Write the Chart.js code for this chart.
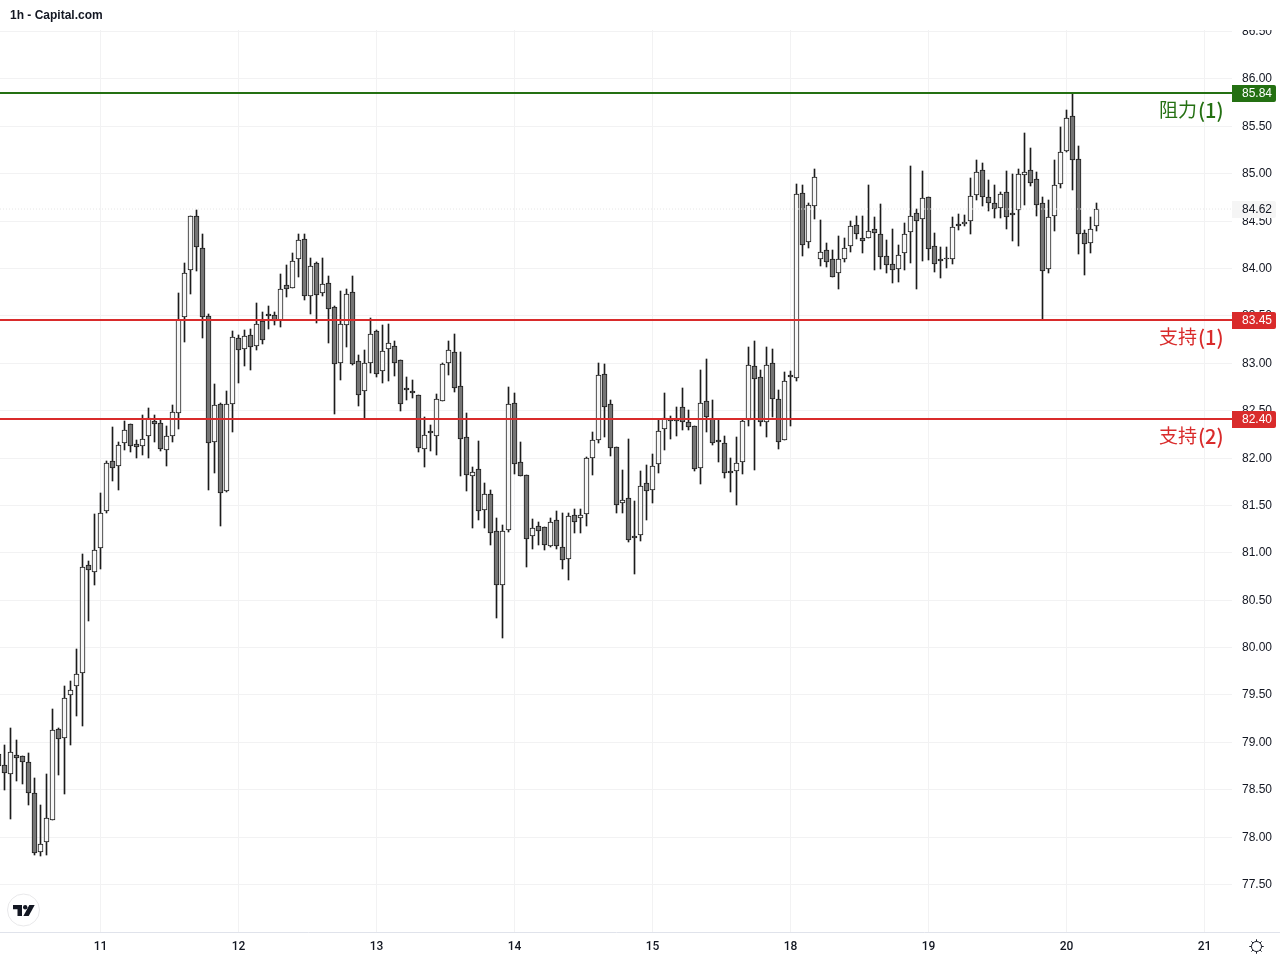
<!DOCTYPE html>
<html><head><meta charset="utf-8">
<style>html,body{margin:0;padding:0;background:#fff}canvas{display:block}</style>
<script src="https://cdn.jsdelivr.net/npm/chart.js@4/dist/chart.umd.min.js"></script>
</head><body><canvas id="c" width="1280" height="960"></canvas>
<script>
const firstIndex = -1;
const opens = [78.87,78.76,78.66,78.86,78.85,78.79,78.46,77.84,77.94,78.18,79.14,79.04,79.49,79.59,79.73,80.87,80.79,81.05,81.44,81.96,81.91,82.15,82.35,82.14,82.12,82.23,82.39,82.36,82.08,82.23,82.47,83.48,83.98,84.55,84.21,83.49,82.16,82.56,81.65,82.57,83.26,83.15,83.29,83.18,83.44,83.51,83.50,83.45,83.82,83.79,84.09,84.31,83.71,84.05,83.74,83.84,83.59,83.00,83.40,83.75,83.02,82.70,83.00,83.34,82.91,83.15,83.18,83.03,82.73,82.70,82.66,82.09,82.28,82.23,82.60,83.00,83.11,82.75,82.22,81.81,81.88,81.45,81.62,81.23,80.65,81.24,82.58,81.95,81.82,81.17,81.28,81.27,81.07,81.34,81.06,80.93,81.39,81.36,81.40,82.00,82.18,82.88,82.57,82.11,81.52,81.57,81.17,81.18,81.73,81.66,81.93,82.30,82.41,82.41,82.53,82.37,82.33,81.89,82.60,82.41,82.18,82.15,81.86,81.86,81.95,82.40,82.97,82.85,82.38,83.00,82.62,82.19,82.87,82.84,84.79,84.27,84.65,84.10,84.19,84.10,83.95,84.10,84.23,84.45,84.32,84.32,84.41,84.36,84.13,84.04,83.99,84.16,84.38,84.58,84.52,84.75,84.23,84.09,84.11,84.09,84.46,84.46,84.50,84.77,85.03,84.75,84.69,84.63,84.80,84.58,84.61,84.98,85.03,84.94,84.69,83.99,84.55,84.89,85.24,85.60,85.15,84.37,84.26,84.44];
const highs = [78.87,78.97,79.15,79.02,78.85,78.88,78.62,78.33,78.66,79.35,79.15,79.59,79.64,79.98,80.98,80.91,81.40,81.63,81.96,82.32,82.16,82.39,82.35,82.18,82.45,82.52,82.45,82.41,82.33,82.55,83.74,84.05,84.55,84.61,84.36,83.51,82.78,82.58,82.70,83.34,83.29,83.35,83.36,83.63,83.54,83.60,83.54,83.94,84.03,84.16,84.36,84.36,84.11,84.06,84.11,83.92,83.60,83.76,83.78,83.92,83.08,83.13,83.47,83.35,83.40,83.41,83.23,83.03,82.85,82.82,82.66,82.43,82.34,82.67,83.00,83.23,83.30,83.11,82.47,81.90,82.17,81.73,81.66,81.36,81.29,82.74,82.68,82.16,81.82,81.35,81.32,81.27,81.36,81.44,81.41,81.41,81.46,81.46,82.01,82.27,83.00,82.99,82.61,82.11,81.87,82.20,81.54,81.86,81.92,82.04,82.41,82.68,82.44,82.53,82.73,82.50,82.33,82.92,83.04,82.61,82.40,82.23,82.00,82.22,82.40,83.17,83.23,82.92,83.17,83.15,82.71,82.90,82.91,84.89,84.88,84.69,85.04,84.51,84.26,84.19,84.34,84.32,84.50,84.55,84.55,84.88,84.54,84.68,84.30,84.41,84.24,84.47,85.08,84.62,85.02,84.75,84.37,84.22,84.22,84.54,84.57,84.56,84.95,85.14,85.11,84.93,84.88,84.80,85.02,84.99,85.04,85.42,85.27,85.01,84.75,84.72,85.14,85.49,85.67,85.84,85.29,84.40,84.54,84.69];
const lows = [78.75,78.49,78.19,78.59,78.56,78.33,77.81,77.80,77.81,78.18,78.65,78.45,78.97,79.27,79.17,80.28,80.65,80.82,81.42,81.75,81.66,82.08,82.06,81.99,82.03,82.00,82.16,82.07,81.91,82.16,82.30,83.22,83.73,83.97,83.26,81.66,81.84,81.28,81.64,82.27,82.79,82.97,82.92,83.13,83.20,83.36,83.40,83.38,83.69,83.79,83.91,83.66,83.51,83.42,83.70,83.21,82.46,82.82,83.17,82.98,82.54,82.41,82.89,82.85,82.79,82.81,82.86,82.49,82.61,82.63,82.06,81.90,82.07,82.03,82.60,82.87,82.69,81.81,81.65,81.26,81.34,81.26,81.08,80.31,80.10,81.21,81.83,81.80,80.85,81.04,81.08,81.02,81.06,81.04,80.82,80.71,81.20,81.20,81.28,81.82,82.15,82.22,82.02,81.42,81.42,81.11,80.77,81.12,81.34,81.52,81.84,82.08,82.20,82.23,82.29,82.29,81.86,81.72,82.27,82.13,81.95,81.78,81.64,81.50,81.83,82.33,81.87,82.33,82.22,82.43,82.09,82.18,82.33,82.81,84.13,84.21,84.52,84.02,84.01,83.91,83.78,84.06,84.17,84.31,84.16,84.32,83.98,83.99,83.95,83.84,83.85,83.98,84.05,83.78,84.07,84.08,83.96,83.89,84.00,84.04,84.40,84.44,84.36,84.72,84.65,84.60,84.53,84.53,84.41,84.28,84.23,84.66,84.87,84.55,83.45,83.95,84.39,84.84,85.22,84.82,84.15,83.93,84.16,84.39];
const closes = [78.75,78.67,78.89,78.83,78.79,78.46,77.83,77.92,78.20,79.12,79.03,79.46,79.55,79.72,80.85,80.81,81.02,81.42,81.94,81.89,82.13,82.29,82.12,82.11,82.20,82.42,82.35,82.09,82.23,82.48,83.45,83.95,84.55,84.22,83.48,82.15,82.55,81.63,82.56,83.27,83.13,83.28,83.17,83.41,83.24,83.49,83.44,83.78,83.78,84.07,84.30,83.71,84.02,83.72,83.83,83.57,82.99,83.41,83.73,82.99,82.66,83.00,83.30,82.88,83.12,83.21,83.00,82.57,82.71,82.68,82.10,82.24,82.26,82.62,82.99,83.13,82.73,82.20,81.82,81.85,81.44,81.61,81.20,80.65,81.22,82.56,81.93,81.80,81.14,81.26,81.22,81.08,81.32,81.07,80.92,81.38,81.32,81.39,81.99,82.19,82.87,82.53,82.10,81.50,81.55,81.13,81.15,81.70,81.65,81.91,82.28,82.42,82.39,82.39,82.38,82.32,81.88,82.58,82.43,82.15,82.16,81.84,81.84,81.94,82.39,82.98,82.83,82.37,82.98,82.62,82.16,82.81,82.85,84.78,84.24,84.66,84.96,84.17,84.06,83.91,84.10,84.21,84.44,84.36,84.29,84.39,84.37,84.12,84.03,83.98,84.14,84.36,84.55,84.50,84.74,84.20,84.04,84.07,84.09,84.43,84.44,84.49,84.76,85.01,84.75,84.69,84.62,84.78,84.54,84.56,84.99,85.01,84.90,84.66,83.97,84.54,84.88,85.22,85.58,85.14,84.36,84.25,84.41,84.62];
const dayTickIndex = [16,39,62,85,108,131,154,177,200];
const dayTickLabels = ['11','12','13','14','15','18','19','20','21'];
const priceTicks = [77.5,78,78.5,79,79.5,80,80.5,81,81.5,82,82.5,83,83.5,84,84.5,85,85.5,86,86.5];
const levelValues = [85.844,83.45,82.404];
const levelNames = ['阻力','支持','支持'];
const levelTags = ['(1)','(1)','(2)'];
const levelColors = ['#247012','#d92b2b','#d92b2b'];
const lastPrice = 84.62;

const TICK_FONT = "'Liberation Sans', Arial, sans-serif";
const AXIS_FONT = "Roboto, 'Liberation Sans', sans-serif";
const CJK_FONT = "'Noto Sans CJK SC', sans-serif";
const xMin = -0.75, xMax = 204.583;
const yMin = 76.9931, yMax = 86.5118;
const idx = opens.map((_, i) => i + firstIndex);

function levelLine(v, color, width, dash) {
  return { type:'line', data:[{x:xMin,y:v},{x:xMax,y:v}], borderColor:color, borderWidth:width,
    borderDash:dash||[], pointRadius:0, order:0, parsing:false, tension:0 };
}

const overlay = {
  id:'overlay',
  afterDraw(chart) {
    const c = chart.ctx, y = chart.scales.y;
    c.save();
    c.fillStyle='#fff'; c.fillRect(1232,0,48,30);
    c.fillStyle='#e0e3eb'; c.fillRect(1233,932,47,1);
    c.textBaseline='middle';
    const exact = v => (1 - (v - yMin) / (yMax - yMin)) * 902 + 30;
    const tag=(v,fill,fg)=>{
      const p=exact(v), top=Math.round(p-8.4);
      c.fillStyle=fill;
      c.beginPath(); c.roundRect(1232,top,44,17,[0,2,2,0]); c.fill();
      c.fillStyle=fg; c.font='12px '+TICK_FONT; c.textAlign='left';
      c.fillText(v.toFixed(2),1242,top+9);
    };
    tag(lastPrice,'#f5f5f5','#131722');
    levelValues.forEach((v,i)=>tag(v,levelColors[i],'#ffffff'));
    c.textAlign='left';
    levelValues.forEach((v,i)=>{
      const py=y.getPixelForValue(v)+17;
      c.fillStyle=levelColors[i];
      c.font='19px '+CJK_FONT;
      c.fillText(levelNames[i],1159,py);
      c.font='500 20px '+CJK_FONT;
      c.fillText(levelTags[i],1198,py);
    });
    c.fillStyle='#131722';
    c.font='bold 12px '+TICK_FONT;
    c.fillText('1h - Capital.com',10,16);
    c.beginPath(); c.arc(23.5,910,16,0,Math.PI*2);
    c.fillStyle='#fff'; c.fill(); c.strokeStyle='#e8e8ea'; c.lineWidth=1; c.stroke();
    c.fillStyle='#131722';
    c.beginPath();
    c.moveTo(13,905);c.lineTo(22,905);c.lineTo(22,916);c.lineTo(17.5,916);c.lineTo(17.5,909.3);c.lineTo(13,909.3);c.closePath();c.fill();
    c.beginPath();c.arc(25.2,907.2,2.2,0,Math.PI*2);c.fill();
    c.beginPath();
    c.moveTo(29.3,905);c.lineTo(34.7,905);c.lineTo(28.7,916);c.lineTo(23.4,916);c.closePath();c.fill();
    const cx=1256.5, cy=946.5;
    c.strokeStyle='#131722'; c.lineWidth=1;
    c.beginPath(); c.arc(cx,cy,5,0,Math.PI*2); c.stroke();
    for(let a=0;a<8;a++){
      const t=a*Math.PI/4;
      c.beginPath(); c.moveTo(cx+Math.cos(t)*5,cy+Math.sin(t)*5);
      c.lineTo(cx+Math.cos(t)*7.2,cy+Math.sin(t)*7.2); c.stroke();
    }
    c.restore();
  }
};

new Chart(document.getElementById('c'), {
  type:'bar',
  data:{ datasets:[
    ...levelValues.map((v,i)=>levelLine(v,levelColors[i],2)),
    levelLine(lastPrice,'#e6e6e6',1,[1,2]),
    { label:'body', data:idx.map((x,i)=>({x,y:[opens[i],closes[i]]})),
      backgroundColor:opens.map((o,i)=>closes[i]>=o?'#f7f7f7':'#757575'),
      borderColor:'#1c1c1c', borderWidth:1, borderSkipped:false,
      barThickness:5, grouped:false, order:1 },
    { label:'wick', data:idx.map((x,i)=>({x,y:[lows[i],highs[i]]})),
      backgroundColor:'#1c1c1c', borderWidth:0,
      barThickness:1, grouped:false, order:2 }
  ]},
  options:{
    responsive:false, animation:false, devicePixelRatio:1,
    layout:{padding:{top:30,left:0,right:0,bottom:0}},
    plugins:{legend:{display:false},tooltip:{enabled:false},title:{display:false}},
    events:[],
    scales:{
      x:{ type:'linear', min:xMin, max:xMax, offset:false,
        afterBuildTicks(s){ s.ticks=dayTickIndex.map(value=>({value})); },
        afterFit(s){ s.height=28; },
        grid:{color:'#f2f2f3',offset:false,drawTicks:false,lineWidth:1},
        border:{color:'#e0e3eb',display:true},
        ticks:{autoSkip:false,maxRotation:0,padding:8,color:'#131722',
          font:{family:AXIS_FONT,size:12,weight:'500'},
          callback(v){ const i=dayTickIndex.indexOf(v); return i<0?'':dayTickLabels[i]; }}
      },
      y:{ type:'linear', position:'right', min:yMin, max:yMax,
        afterBuildTicks(s){ s.ticks=priceTicks.map(value=>({value})); },
        afterFit(s){
          s.width=48;
          if(!s._snapped){
            const base=s.getPixelForValue.bind(s);
            s.getPixelForValue=v=>Math.round(base(v));
            s._snapped=true;
          }
        },
        grid:{color:'#f2f2f3',drawTicks:false,lineWidth:1},
        border:{display:false},
        ticks:{padding:10,crossAlign:'near',color:'#131722',labelOffset:1,
          font:{family:TICK_FONT,size:12},
          callback(v){ return Number(v).toFixed(2); }}
      }
    }
  },
  plugins:[overlay]
});
</script></body></html>
